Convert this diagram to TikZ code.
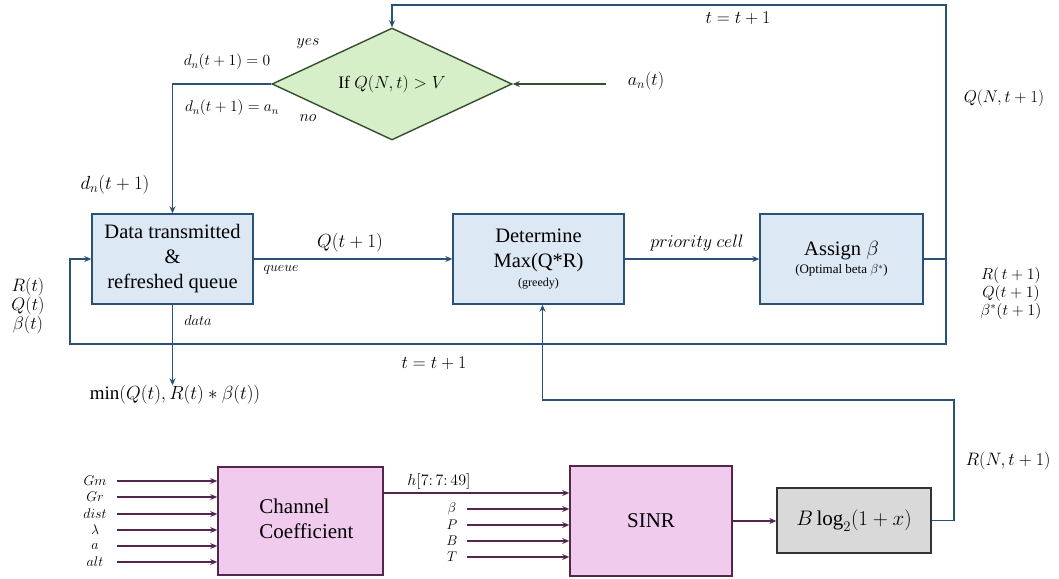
\RequirePackage{fix-cm}
\documentclass[tikz,border=0pt]{standalone}
\usepackage{fontspec}
\setmainfont{Liberation Serif}
\usetikzlibrary{shapes.geometric,arrows.meta,calc}
\definecolor{bfill}{HTML}{DCE9F5}
\definecolor{bline}{HTML}{2A5275}
\definecolor{gfill}{HTML}{D6EFC8}
\definecolor{gline}{HTML}{354F2C}
\definecolor{pfill}{HTML}{F0CBEE}
\definecolor{pline}{HTML}{55264B}
\definecolor{grfill}{HTML}{D9D9D9}
\definecolor{grline}{HTML}{333333}
\tikzset{
  bluebox/.style={draw=bline,fill=bfill,line width=1.4pt,inner sep=0pt,align=center,font=\fontsize{20.5}{25}\selectfont},
  pinkbox/.style={draw=pline,fill=pfill,line width=1.6pt,inner sep=0pt,font=\fontsize{21}{26}\selectfont},
  graybox/.style={draw=grline,fill=grfill,line width=1.4pt,inner sep=0pt,align=center,font=\fontsize{21}{24}\selectfont},
  dia/.style={diamond,aspect=2.1,draw=gline,fill=gfill,line width=1.4pt,inner sep=0pt,font=\fontsize{17.5}{20}\selectfont},
  bflow/.style={draw=bline,line width=1.4pt},
  barrow/.style={bflow,-{Stealth[length=7pt,width=6pt]}},
  garrow/.style={draw=gline,line width=1.5pt,-{Stealth[length=7pt,width=6pt]}},
  parrow/.style={draw=pline,line width=1.6pt,-{Stealth[length=7pt,width=6pt]}},
  lbl/.style={inner sep=0pt,font=\fontsize{18}{18}\selectfont},
  rlbl/.style={inner sep=0pt,font=\fontsize{16}{16}\selectfont},
  slbl/.style={inner sep=0pt,font=\fontsize{16}{16}\selectfont},
  tlbl/.style={inner sep=0pt,font=\fontsize{14}{14}\selectfont},
  inlbl/.style={inner sep=0pt,minimum width=40pt,font=\fontsize{14}{14}\selectfont},
  sinlbl/.style={inner sep=0pt,minimum width=30pt,font=\fontsize{14}{14}\selectfont},
}
\begin{document}
\begin{tikzpicture}[x=1pt,y=-1pt]
\useasboundingbox[fill=white] (0,0) rectangle (1059,578);
% main nodes
\node[dia,minimum width=240pt,minimum height=112pt] (dec) at (392,84) {If $Q(N,t)>V$};
\node[bluebox,minimum width=161pt,minimum height=90pt] (data) at (172.5,259) {Data transmitted\\\&\\refreshed queue};
\node[bluebox,minimum width=171pt,minimum height=90pt] (det) at (538.5,259) {Determine\\Max(Q*R)\\[-6pt]{\fontsize{12}{14}\selectfont (greedy)}};
\node[bluebox,minimum width=163pt,minimum height=90pt] (asg) at (841.5,259) {Assign $\beta$\\[-7pt]{\fontsize{13}{15}\selectfont (Optimal beta $\beta^{*}$)}};
\node[pinkbox,minimum width=165pt,minimum height=108pt] (chan) at (300.5,521) {\hspace*{12pt}\raisebox{-4pt}{\begin{tabular}{@{}l@{}}Channel\\[-1pt]Coefficient\end{tabular}}};
\node[pinkbox,minimum width=162pt,minimum height=110pt] (sinr) at (651,521) {SINR};
\node[graybox,minimum width=154pt,minimum height=65pt] (blog) at (854,520.5) {$B\log_2(1+x)$};
% coordinates
\coordinate (jr) at (946,259);
\coordinate (jtop) at (946,5);
\coordinate (jbl) at (70,344);
\coordinate (an0) at (606,84);
\coordinate (rn) at (954,400);
% labels
\node[lbl] (an) at (646,81) {$a_n(t)$};
\node[lbl] (tt1) at (738,18) {$t=t+1$};
\node[lbl,font=\fontsize{17}{17}\selectfont] (qn) at (1004,98) {$Q(N,t+1)$};
\node[slbl] (yes) at (308,44) {$yes$};
\node[slbl] (no) at (308,118) {$no$};
\node[slbl,font=\fontsize{15.5}{16}\selectfont] (d0) at (227,62) {$d_n(t+1)=0$};
\node[slbl,font=\fontsize{15.5}{16}\selectfont] (da) at (232,108) {$d_n(t+1)=a_n$};
\node[lbl,font=\fontsize{19}{19}\selectfont] (dn) at (115,185) {$d_n(t+1)$};
\node[lbl,align=center,font=\fontsize{18}{17.5}\selectfont] (rql) at (28,306) {$R(t)$\\$Q(t)$\\$\beta(t)$};
\node[rlbl] (rr1) at (1011,275) {$R(\,t+1)$};
\node[rlbl] (rr2) at (1011,293) {$Q(t+1)$};
\node[rlbl] (rr3) at (1011,311) {$\beta^{*}(t+1)$};
\node[lbl,font=\fontsize{19}{19}\selectfont] (qt1) at (350,243) {$Q(t+1)$};
\node[tlbl] (queue) at (281,270) {$queue$};
\node[lbl] (prio) at (697,243) {$priority\ cell$};
\node[tlbl,font=\fontsize{14.5}{15}\selectfont] (dlab) at (198,320) {$data$};
\node[lbl] (tt2) at (434,363) {$t=t+1$};
\node[lbl,font=\fontsize{19}{19}\selectfont] (minl) at (175,395) {$\min(Q(t),R(t)*\beta(t))$};
\node[lbl] (rnl) at (1008,461) {$R(N,t+1)$};
\node[slbl] (hl) at (439,481) {$h[7{:}\,7{:}\,49]$};
% channel inputs
\node[inlbl] (i1) at (95,481) {$Gm$};
\node[inlbl] (i2) at (95,497) {$Gr$};
\node[inlbl] (i3) at (95,514) {$dist$};
\node[inlbl] (i4) at (95,530) {$\lambda$};
\node[inlbl] (i5) at (95,546) {$a$};
\node[inlbl] (i6) at (95,562) {$alt$};
\foreach \i in {1,...,6}{\draw[parrow] ([xshift=2pt]i\i.east) -- (i\i.east -| chan.west);}
% sinr inputs
\node[sinlbl] (s1) at (452,509) {$\beta$};
\node[sinlbl] (s2) at (452,525) {$P$};
\node[sinlbl] (s3) at (452,541) {$B$};
\node[sinlbl] (s4) at (452,557) {$T$};
\foreach \i in {1,...,4}{\draw[parrow] (s\i.east) -- (s\i.east -| sinr.west);}
\draw[parrow] ([yshift=28pt]chan.east) -- ([yshift=28pt]chan.east -| sinr.west);
\draw[parrow] (sinr.east) -- (sinr.east -| blog.west);
% blue flows
\draw[barrow] (asg.east) -- (jr) -- (jtop) -| (dec.north);
\draw[barrow] (jr) |- (jbl) |- (data.west);
\draw[barrow] (dec.west) -| (data.north);
\draw[garrow] (an0) -- (dec.east);
\draw[barrow] (data.east) -- (det.west);
\draw[barrow] (det.east) -- (asg.west);
\draw[barrow] (data.south) -- (data.south |- minl.north);
\draw[barrow] (blog.east) -| (rn) -| ([xshift=4pt]det.south);
\end{tikzpicture}
\end{document}
